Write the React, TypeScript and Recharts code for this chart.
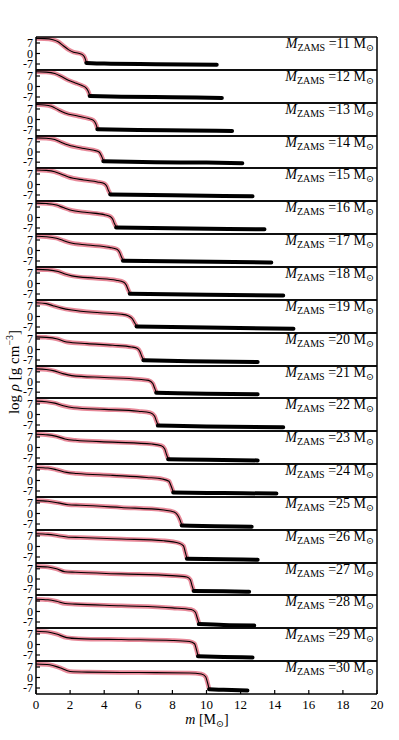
import React from "react";
import { LineChart, Line, XAxis, YAxis } from "recharts";

const SERIF = "'Liberation Serif', 'DejaVu Serif', serif";

const masses = [11, 12, 13, 14, 15, 16, 17, 18, 19, 20, 21, 22, 23, 24, 25, 26, 27, 28, 29, 30];
const xMajor = [0, 2, 4, 6, 8, 10, 12, 14, 16, 18, 20];
const xMinor = [1, 3, 5, 7, 9, 11, 13, 15, 17, 19];
const yTicks = [-7, 0, 7];

// core profiles: [m, log rho]
const core11 = [[0, 10.0], [0.5, 9.9], [1.0, 9.2], [1.3, 7.8], [1.6, 5.2], [1.9, 2.6], [2.2, 0.9], [2.5, 0.2], [2.7, -0.6], [2.85, -2.5], [2.95, -5.8]];
const core12 = [[0, 9.8], [0.6, 9.6], [1.1, 8.7], [1.5, 6.6], [1.9, 4.2], [2.3, 2.4], [2.7, 0.6], [2.9, -0.6], [3.05, -2.8], [3.15, -5.8]];
const core13 = [[0, 10.0], [0.5, 9.7], [0.9, 8.8], [1.3, 6.5], [1.7, 4.4], [2.5, 2.2], [3.1, 0.6], [3.35, -0.4], [3.5, -2.7], [3.6, -6.0]];
const core14 = [[0, 9.7], [0.6, 9.5], [1.1, 8.6], [1.5, 6.6], [1.9, 4.8], [2.7, 2.6], [3.4, 1.2], [3.7, 0.0], [3.85, -3.0], [3.95, -5.8]];
const core15 = [[0, 9.7], [0.6, 9.4], [1.1, 8.5], [1.5, 6.8], [1.9, 5.0], [2.8, 3.0], [3.6, 1.7], [4.0, 0.6], [4.15, -1.2], [4.25, -4.0], [4.35, -6.1]];
const core16 = [[0, 9.6], [0.6, 9.3], [1.2, 8.3], [1.6, 6.6], [2.0, 5.0], [3.0, 3.3], [4.0, 1.9], [4.35, 0.7], [4.5, -1.2], [4.6, -4.0], [4.7, -6.2]];
const core17 = [[0, 9.5], [0.6, 9.2], [1.2, 8.2], [1.6, 6.6], [2.0, 5.2], [3.0, 3.7], [4.3, 2.1], [4.75, 0.8], [4.9, -1.2], [5.0, -4.0], [5.1, -6.3]];
const core18 = [[0, 9.4], [0.7, 9.1], [1.3, 8.0], [1.7, 6.3], [2.1, 5.1], [3.5, 3.5], [4.7, 2.2], [5.15, 0.9], [5.3, -1.2], [5.4, -4.0], [5.5, -6.4]];
const core19 = [[0, 9.2], [0.6, 8.6], [1.0, 7.2], [1.5, 5.6], [2.1, 4.3], [3.75, 2.5], [5.0, 1.5], [5.4, 0.5], [5.65, -1.5], [5.8, -4.5], [5.9, -6.2]];
const core20 = [[0, 8.4], [0.6, 8.1], [1.2, 7.2], [1.8, 5.0], [3.0, 3.9], [4.5, 2.8], [5.6, 1.7], [5.95, 0.7], [6.1, -1.5], [6.2, -4.5], [6.3, -6.8]];
const core21 = [[0, 9.0], [0.6, 8.6], [1.0, 7.8], [1.5, 6.0], [2.1, 4.4], [4.0, 3.1], [6.0, 1.9], [6.6, 1.1], [6.85, -1.0], [6.95, -4.0], [7.05, -7.0]];
const core22 = [[0, 8.9], [0.6, 8.5], [1.1, 7.6], [1.6, 5.8], [2.2, 4.5], [4.0, 3.4], [6.0, 2.2], [6.7, 1.2], [6.95, -1.0], [7.05, -4.0], [7.15, -7.0]];
const core23 = [[0, 8.8], [0.7, 8.4], [1.2, 7.4], [1.7, 5.7], [2.3, 4.8], [4.5, 3.6], [6.8, 2.3], [7.35, 1.2], [7.55, -1.0], [7.65, -4.5], [7.75, -7.5]];
const core24 = [[0, 8.7], [0.7, 8.3], [1.2, 7.2], [1.8, 5.4], [2.4, 4.7], [4.5, 3.4], [6.5, 2.0], [7.4, 1.0], [7.8, -0.5], [7.9, -3.0], [8.0, -6.0], [8.05, -7.8]];
const core25 = [[0, 8.6], [0.7, 8.2], [1.3, 7.1], [1.9, 5.8], [2.6, 5.5], [5.0, 4.0], [7.5, 2.3], [8.1, 1.0], [8.3, -1.0], [8.45, -4.4], [8.55, -7.7]];
const core26 = [[0, 8.5], [0.7, 8.1], [1.3, 7.2], [1.9, 6.2], [2.6, 6.0], [5.0, 5.0], [7.5, 3.8], [8.4, 2.2], [8.65, 0.4], [8.75, -3.6], [8.85, -7.8]];
const core27 = [[0, 8.7], [0.7, 8.2], [1.2, 7.0], [1.7, 5.0], [2.3, 4.6], [5.0, 3.5], [8.0, 2.3], [8.85, 1.4], [9.05, -0.5], [9.15, -4.5], [9.25, -8.0]];
const core28 = [[0, 8.2], [0.7, 7.8], [1.2, 6.8], [1.7, 5.3], [2.3, 4.9], [5.0, 3.8], [8.0, 2.4], [9.1, 1.3], [9.35, -0.5], [9.45, -4.0], [9.55, -7.5]];
const core29 = [[0, 8.8], [0.7, 8.3], [1.2, 7.0], [1.8, 4.6], [2.5, 3.9], [5.0, 3.3], [8.0, 2.7], [9.0, 2.0], [9.3, 0.5], [9.4, -3.0], [9.5, -7.5]];
const core30 = [[0, 9.0], [0.8, 8.5], [1.4, 6.5], [2.0, 4.0], [3.0, 3.6], [6.0, 3.3], [9.0, 3.0], [9.7, 2.3], [9.95, 0.5], [10.05, -3.0], [10.15, -7.5]];

// envelope: [m, log rho]
const env11 = [[2.95, -6.3], [4, -6.7], [7, -7.1], [10.6, -7.5]];
const env12 = [[3.15, -6.4], [5, -6.8], [8, -7.2], [10.9, -7.6]];
const env13 = [[3.6, -6.5], [6, -7.0], [9, -7.3], [11.5, -7.7]];
const env14 = [[3.95, -6.4], [7, -7.0], [10, -7.3], [12.1, -7.7]];
const env15 = [[4.35, -6.6], [8, -7.2], [12.7, -7.8]];
const env16 = [[4.7, -6.7], [9, -7.3], [13.4, -7.9]];
const env17 = [[5.1, -6.8], [9, -7.4], [13.8, -8.0]];
const env18 = [[5.5, -6.9], [10, -7.5], [14.5, -8.0]];
const env19 = [[5.9, -6.6], [10, -7.4], [15.1, -8.1]];
const env20 = [[6.3, -7.2], [9, -7.8], [13.0, -8.3]];
const env21 = [[7.05, -7.4], [10, -8.0], [13.0, -8.4]];
const env22 = [[7.15, -7.4], [10, -8.0], [14.5, -8.5]];
const env23 = [[7.75, -7.8], [10, -8.2], [13.0, -8.6]];
const env24 = [[8.05, -8.0], [11, -8.4], [14.1, -8.7]];
const env25 = [[8.55, -8.0], [10.5, -8.5], [12.65, -8.8]];
const env26 = [[8.85, -8.1], [11, -8.5], [13.0, -8.8]];
const env27 = [[9.25, -8.2], [11, -8.5], [12.5, -8.8]];
const env28 = [[9.55, -8.4], [11, -9.0], [12.8, -9.3]];
const env29 = [[9.5, -7.9], [11, -8.3], [12.7, -8.6]];
const env30 = [[10.15, -7.9], [11, -8.2], [12.4, -8.6]];

const cores = [core11, core12, core13, core14, core15, core16, core17, core18, core19, core20,
  core21, core22, core23, core24, core25, core26, core27, core28, core29, core30];
const envs = [env11, env12, env13, env14, env15, env16, env17, env18, env19, env20,
  env21, env22, env23, env24, env25, env26, env27, env28, env29, env30];

const toRows = (pts: number[][]) => pts.map(([m, rho]) => ({ m, rho }));

const TOP = 37;
const PANEL_H = 32.85;
const PAD = 6;

const XTick = (p: any) => (
  <text x={p.x} y={p.y + 17} textAnchor="middle" fontFamily={SERIF} fontSize={13} fill="#000">
    {p.payload.value}
  </text>
);

const YTick = (p: any) => (
  <text x={p.x - 5} y={p.y + 4} textAnchor="end" fontFamily={SERIF} fontSize={12} fill="#000">
    {p.payload.value}
  </text>
);

const axisLine = { stroke: "#000", strokeWidth: 1.5 };
const tickLine = { stroke: "#000", strokeWidth: 1.2 };

function Panel({ i }: { i: number }) {
  const top = Math.round(TOP + i * PANEL_H);
  const next = Math.round(TOP + (i + 1) * PANEL_H);
  const h = next - top;
  const last = i === masses.length - 1;
  const bottomExtra = last ? 30 : 0;
  // each axis takes 1px; margins are shrunk so that the plot box lands on [top, next]
  return (
    <div style={{ position: "absolute", left: 0, top: top - PAD }}>
      <LineChart
        width={399}
        height={h + 2 * PAD + bottomExtra}
        margin={{ top: PAD - 2, right: 21, bottom: PAD - 2 + bottomExtra, left: 35 }}
      >
        <XAxis xAxisId="b" type="number" dataKey="m" domain={[0, 20]} allowDataOverflow
          ticks={xMajor} interval={0} orientation="bottom" height={1} tickSize={-4}
          axisLine={axisLine} tickLine={tickLine} tick={last ? XTick : false} />
        <XAxis xAxisId="bm" type="number" dataKey="m" domain={[0, 20]} allowDataOverflow
          ticks={xMinor} interval={0} orientation="bottom" height={1} tickSize={-2}
          axisLine={false} tickLine={tickLine} tick={false} />
        <XAxis xAxisId="t" type="number" dataKey="m" domain={[0, 20]} allowDataOverflow
          ticks={xMajor} interval={0} orientation="top" height={1} tickSize={-4}
          axisLine={axisLine} tickLine={tickLine} tick={false} />
        <XAxis xAxisId="tm" type="number" dataKey="m" domain={[0, 20]} allowDataOverflow
          ticks={xMinor} interval={0} orientation="top" height={1} tickSize={-2}
          axisLine={false} tickLine={tickLine} tick={false} />
        <YAxis yAxisId="l" type="number" domain={[-11, 11]} allowDataOverflow ticks={yTicks}
          interval={0} width={1} tickSize={-4} axisLine={axisLine} tickLine={tickLine} tick={YTick} />
        <YAxis yAxisId="r" orientation="right" type="number" domain={[-11, 11]} allowDataOverflow
          ticks={yTicks} interval={0} width={1} tickSize={-4} axisLine={axisLine} tickLine={tickLine} tick={false} />
        <Line xAxisId="b" yAxisId="l" data={toRows(cores[i])} dataKey="rho" type="monotone"
          stroke="#d93a55" strokeOpacity={0.6} strokeWidth={4.5} dot={false} isAnimationActive={false} />
        <Line xAxisId="b" yAxisId="l" data={toRows(cores[i])} dataKey="rho" type="monotone"
          stroke="#000" strokeWidth={1.1} dot={false} isAnimationActive={false} />
        <Line xAxisId="b" yAxisId="l" data={toRows(envs[i])} dataKey="rho" type="monotone"
          stroke="#000" strokeWidth={4} strokeLinecap="round" dot={false} isAnimationActive={false} />
      </LineChart>
      <div style={{ position: "absolute", right: 25, top: PAD, fontFamily: SERIF, fontSize: 14, lineHeight: "14px", whiteSpace: "nowrap", color: "#000" }}>
        <i>M</i><span style={{ fontSize: 10, position: "relative", top: 3 }}>ZAMS</span> =
        {masses[i]} M<span style={{ fontSize: 9.5, position: "relative", top: 3 }}>⊙</span>
      </div>
    </div>
  );
}

export default function App() {
  return (
    <div style={{ position: "absolute", left: 0, top: 0, width: 399, height: 740, background: "#fff" }}>
      {masses.map((_, i) => (
        <Panel key={i} i={i} />
      ))}
      <div style={{ position: "absolute", left: 13, top: 372, transform: "translate(-50%, -50%) rotate(-90deg)", fontFamily: SERIF, fontSize: 15, whiteSpace: "nowrap" }}>
        log <i>ρ</i> [g cm<sup style={{ fontSize: 10 }}>−3</sup>]
      </div>
      <div style={{ position: "absolute", left: 207, top: 720, transform: "translate(-50%, -50%)", fontFamily: SERIF, fontSize: 14, whiteSpace: "nowrap" }}>
        <i>m</i> [M<span style={{ fontSize: 9.5, position: "relative", top: 3 }}>⊙</span>]
      </div>
    </div>
  );
}
